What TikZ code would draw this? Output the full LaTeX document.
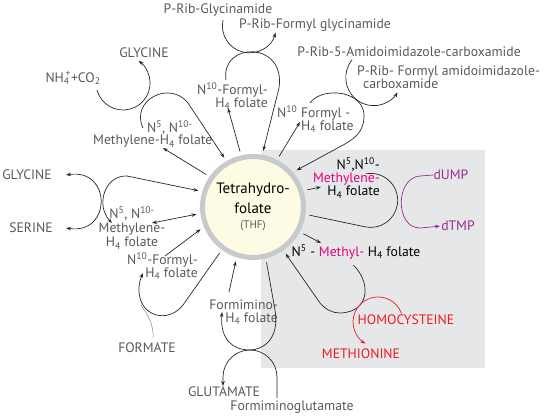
\documentclass[tikz,border=0pt]{standalone}
\usepackage{fontspec}
\setmainfont{PT Sans}
\usetikzlibrary{arrows.meta}
\definecolor{txtgrey}{RGB}{88,89,91}
\definecolor{lineblk}{RGB}{40,40,40}
\definecolor{boxgrey}{RGB}{230,231,233}
\definecolor{thfyel}{RGB}{253,251,228}
\definecolor{ringgrey}{RGB}{200,201,204}
\definecolor{mag}{RGB}{230,0,126}
\definecolor{ump}{RGB}{155,45,145}
\definecolor{hcyred}{RGB}{237,28,36}
\newcommand{\Hf}{H\textsubscript{4}}

\begin{document}
\begin{tikzpicture}[x=1pt,y=1pt,yscale=-1,
  >={Stealth[length=5pt,width=3.6pt]},
  lbl/.style={text=txtgrey, inner sep=0pt, font=\fontsize{13.7}{12.5}\selectfont},
  boxlbl/.style={lbl, text=black},
  ln/.style={draw=lineblk, line width=0.7pt},
  arr/.style={ln, ->},
  arrboth/.style={ln, <->},
  thfring/.style={circle, draw=ringgrey, line width=5pt, fill=thfyel, minimum size=101pt, inner sep=0pt}]
\useasboundingbox (0,0) rectangle (547,417);

%Shape: grey box
\fill[boxgrey] (261,150) rectangle (485,368);

%THF circle
\node[thfring] (thf) at (253,207) {};
% Text Node
\node[font=\fontsize{15}{20}\selectfont, align=center, inner sep=0pt] (thfname) at (253,198) {Tetrahydro-\\folate};
% Text Node
\node[lbl, font=\fontsize{11}{12}\selectfont] (thfabbr) at (253,226) {(THF)};

% Text Node
\node[lbl] (prgly) at (218,10) {P-Rib-Glycinamide};
% Text Node
\node[lbl] (prfgly) at (315,25) {P-Rib-Formyl glycinamide};
% Text Node
\node[lbl] (praica) at (409,52) {P-Rib-5-Amidoimidazole-carboxamide};
% Text Node
\node[lbl, anchor=west, align=left] (prfaica) at (357,77) {P-Rib- Formyl amidoimidazole-\\\hspace*{6pt}carboxamide};
% Text Node
\node[lbl] (nhco) at (73,78) {NH\textsubscript{4}\kern-4pt\textsuperscript{+}+CO\textsubscript{2}};
% Text Node
\node[lbl] (glyA) at (144,53) {GLYCINE};
% Text Node
\node[lbl, align=left, anchor=west] (metA) at (93,134) {\hspace*{54pt}N\textsuperscript{5}, N\textsuperscript{10-}\\Methylene-\Hf{} folate};
% Text Node
\node[lbl, align=right, anchor=east] (forA) at (268,96) {N\textsuperscript{10}-Formyl-\\\Hf{} folate};
% Text Node
\node[lbl, align=left, anchor=west] (forB) at (277,119) {N\textsuperscript{10} Formyl -\\\hspace*{24pt}\Hf{} folate};
% Text Node
\node[boxlbl, align=right, anchor=east, font=\fontsize{13.7}{13}\selectfont] (metB) at (380,178) {N\textsuperscript{5},N\textsuperscript{10}-\\\textcolor{mag}{Methylene-}\\\Hf{} folate};
% Text Node
\node[lbl, text=ump] (dump) at (451,175) {dUMP};
% Text Node
\node[lbl, text=ump] (dtmp) at (458,226) {dTMP};
% Text Node
\node[boxlbl] (mthl) at (356,252) {N\textsuperscript{5} - \textcolor{mag}{Methyl-} \Hf{} folate};
% Text Node
\node[lbl, text=hcyred] (hcy) at (406,320) {HOMOCYSTEINE};
% Text Node
\node[lbl, text=hcyred] (meth) at (361,354) {METHIONINE};
% Text Node
\node[lbl] (glu) at (224,392) {GLUTAMATE};
% Text Node
\node[lbl] (figlu) at (292,407) {Formiminoglutamate};
% Text Node
\node[lbl, align=right, anchor=east] (fimino) at (278,312) {Formimino-\\\Hf{} folate};
% Text Node
\node[lbl] (formate) at (147,348) {FORMATE};
% Text Node
\node[lbl, align=right, anchor=east] (forC) at (198,266) {N\textsuperscript{10}-Formyl-\\\Hf{} folate};
% Text Node
\node[lbl, align=center, font=\fontsize{13.7}{14}\selectfont] (metC) at (132,228) {N\textsuperscript{5}, N\textsuperscript{10-}\\Methylene-\\\Hf{} folate};
% Text Node
\node[lbl] (glyB) at (27,175) {GLYCINE};
% Text Node
\node[lbl] (ser) at (31,228) {SERINE};

%Free ends
\coordinate (metAin) at (163,148);
\coordinate (loopAs) at (143,128);
\coordinate (nhs) at (97,90);
\coordinate (forAin) at (228,108);
\coordinate (forAs) at (226,80);
\coordinate (prglys) at (223,20);
\coordinate (forBin) at (300,122);
\coordinate (forBs) at (310,103);
\coordinate (praicas) at (352,60);
\coordinate (metBin) at (321,187);
\coordinate (metBloop) at (366,227);
\coordinate (mthlin) at (321,243);
\coordinate (mthls) at (353,265);
\coordinate (hcys) at (401.5,313.4);
\coordinate (fiminoout) at (229,292);
\coordinate (fiminoin) at (222,312);
\coordinate (figlus) at (277,398);
\coordinate (gluin) at (223,386);
\coordinate (forCin) at (143,273);
\coordinate (forCout) at (165,256);
\coordinate (formates) at (153,338);
\coordinate (metCout) at (152,223);
\coordinate (metCin) at (112,223);
\coordinate (glyBin) at (66,175);
\coordinate (serin) at (66,228);

%Straight Lines
\draw[arr, shorten <=4pt] (thf.145) -- (metAin);
%Curve Lines
\draw[arr, shorten >=4pt] (loopAs) .. controls (130,100) and (170,80) .. (188,103) -- (thf.120);
\draw[arr] (nhs) arc[start angle=165, end angle=-55, radius=27];

%Straight Lines
\draw[arr, shorten <=4pt] (thf.103) -- (forAin);
%Curve Lines
\draw[arr, shorten >=4pt] (forAs) .. controls (220,42) and (286,40) .. (279,88) -- (thf.80);
\draw[arr] (prglys) arc[start angle=192.5, end angle=14.5, radius=27];

%Straight Lines
\draw[arr, shorten <=4pt] (thf.63) -- (forBin);
%Curve Lines
\draw[arr, shorten >=4pt] (forBs) .. controls (322,86) and (366,90) .. (364,118) .. controls (363,132) and (355,138) .. (345,144) -- (thf.41);
\draw[arr] (praicas) arc[start angle=219, end angle=32, radius=28];

%Straight Lines
\draw[arr, shorten <=4pt] (thf.18) -- (metBin);
%Curve Lines
\draw[ln, shorten <=4pt] (thf.-8) -- (metBloop) arc[start angle=100, end angle=-100, radius=27];
\draw[arr, draw=ump, shorten >=1pt] (dump.west) -- (420,176) .. controls (395,178) and (395,228) .. (420,228) -- (dtmp.west);

%Straight Lines
\draw[arr, shorten <=4pt] (thf.-28) -- (mthlin);
%Curve Lines
\draw[arr, shorten >=4pt] (mthls) .. controls (370,280) and (372,312) .. (340,313) .. controls (333,313) and (326,310) .. (320,303) -- (thf.-55);
\draw[arr, draw=hcyred] (hcys) arc[start angle=-20, end angle=-240, radius=25];

%Straight Lines
\draw[arr, shorten >=4pt] (fiminoout) -- (thf.-108);
%Curve Lines
\draw[arr, shorten <=4pt] (thf.-76) -- (275,310) .. controls (280,340) and (262,350) .. (250,350) .. controls (233,350) and (220,340) .. (fiminoin);
\draw[arr] (figlus) -- (277,377) arc[start angle=0, end angle=-180, radius=27] -- (gluin);

%Curve Lines
\draw[arr, shorten <=4pt] (thf.-126) -- (183,305) .. controls (170,322) and (145,318) .. (140,298) .. controls (138,290) and (139,282) .. (forCin);
\draw[draw=txtgrey!70, line width=0.5pt] (formates) .. controls (154,325) and (148,315) .. (141,305);
%Straight Lines
\draw[arr, shorten >=4pt] (forCout) -- (thf.-158);
\draw[arrboth, shorten >=4pt] (metCout) -- (thf.-173);
%Curve Lines
\draw[arrboth, shorten >=4pt] (metCin) .. controls (95,205) and (105,175) .. (127,176) -- (thf.163);
\draw[arrboth] (glyBin) .. controls (112,168) and (112,235) .. (serin);

\end{tikzpicture}
\end{document}
